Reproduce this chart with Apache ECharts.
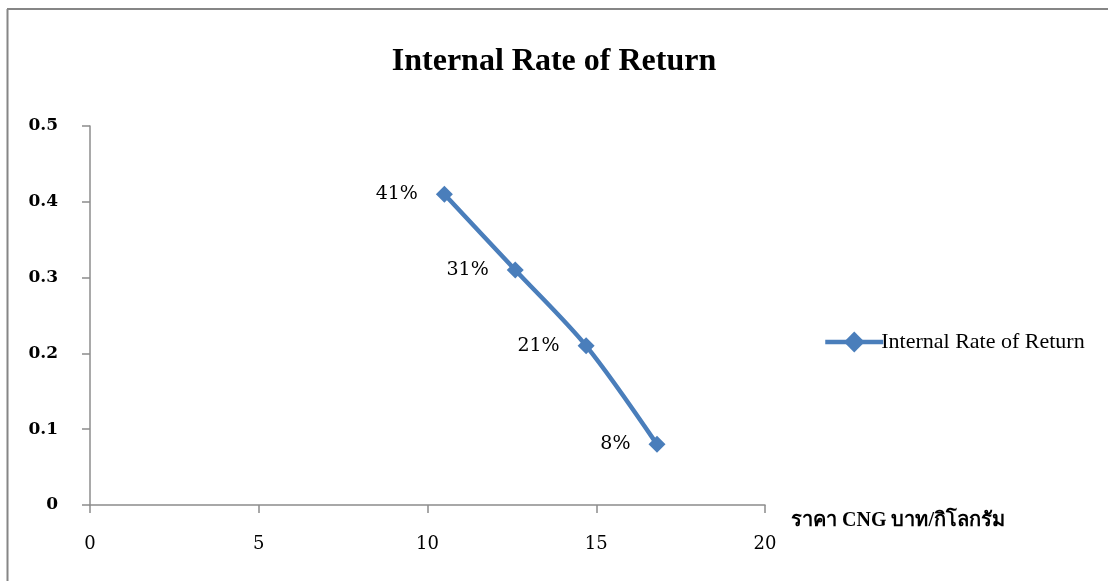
<!DOCTYPE html>
<html>
<head>
<meta charset="utf-8">
<script src="https://cdn.jsdelivr.net/npm/echarts@6/dist/echarts.min.js"></script>
<style>
  html, body { margin: 0; padding: 0; background: #ffffff; }
  #chart { width: 1108px; height: 581px; }
</style>
</head>
<body>
<div id="chart"></div>
<script>
// CNG price (baht/kg) against internal rate of return
const cngPrice = [10.5, 12.6, 14.7, 16.8];
const irr = [0.41, 0.31, 0.21, 0.08];
const seriesName = 'Internal Rate of Return';
const xAxisTitle = 'ราคา CNG บาท/กิโลกรัม';

const chart = echarts.init(document.getElementById('chart'));
const serif = '"Liberation Serif", "DejaVu Serif", serif';
const tickFont = '"DejaVu Serif", serif';
const axisGray = '#8c8c8c';
const lineBlue = '#4a7ebb';

chart.setOption({
  backgroundColor: '#ffffff',
  animation: false,
  graphic: [
    { type: 'line', shape: { x1: 7.5, y1: 9, x2: 7.5, y2: 581 }, style: { stroke: '#868686', lineWidth: 2 } },
    { type: 'line', shape: { x1: 7, y1: 9, x2: 1108, y2: 9 }, style: { stroke: '#868686', lineWidth: 2 } }
  ],
  title: {
    text: seriesName,
    left: 'center',
    top: 41,
    textStyle: { fontFamily: serif, fontSize: 32, fontWeight: 'bold', color: '#000' }
  },
  legend: {
    data: [seriesName],
    orient: 'vertical',
    left: 818,
    top: 326,
    itemWidth: 58,
    itemHeight: 26,
    lineStyle: { width: 4.5 },
    textStyle: { fontFamily: serif, fontSize: 22, color: '#000', padding: [0, 0, 0, -7] }
  },
  grid: { left: 90, right: 343, top: 126, bottom: 76, containLabel: false },
  xAxis: {
    type: 'value',
    min: 0, max: 20, interval: 5,
    name: xAxisTitle,
    nameLocation: 'end',
    nameGap: 26,
    nameTextStyle: {
      fontFamily: serif, fontSize: 20, fontWeight: 'bold', color: '#000',
      align: 'left', verticalAlign: 'top', padding: [6, 0, 0, 0]
    },
    axisLine: { show: true, lineStyle: { color: axisGray, width: 1.5 } },
    axisTick: { show: true, length: 8, lineStyle: { color: axisGray, width: 1.5 } },
    axisLabel: { margin: 30, fontFamily: tickFont, fontSize: 18, color: '#000' },
    splitLine: { show: false }
  },
  yAxis: {
    type: 'value',
    min: 0, max: 0.5, interval: 0.1,
    axisLine: { show: true, lineStyle: { color: axisGray, width: 1.5 } },
    axisTick: { show: true, length: 8, lineStyle: { color: axisGray, width: 1.5 } },
    axisLabel: {
      margin: 32, fontFamily: tickFont, fontSize: 17, fontWeight: 'bold', color: '#000',
      formatter: v => (v === 0 ? '0' : v.toFixed(1))
    },
    splitLine: { show: false }
  },
  series: [{
    name: seriesName,
    type: 'line',
    data: cngPrice.map((x, i) => [x, irr[i]]),
    smooth: 0.3,
    symbol: 'diamond',
    symbolSize: 17,
    lineStyle: { color: lineBlue, width: 4.5 },
    itemStyle: { color: lineBlue },
    label: {
      show: true,
      position: 'left',
      distance: 18,
      fontFamily: tickFont,
      fontSize: 19,
      color: '#000',
      formatter: p => Math.round(p.value[1] * 100) + '%'
    }
  }]
});
</script>
</body>
</html>
